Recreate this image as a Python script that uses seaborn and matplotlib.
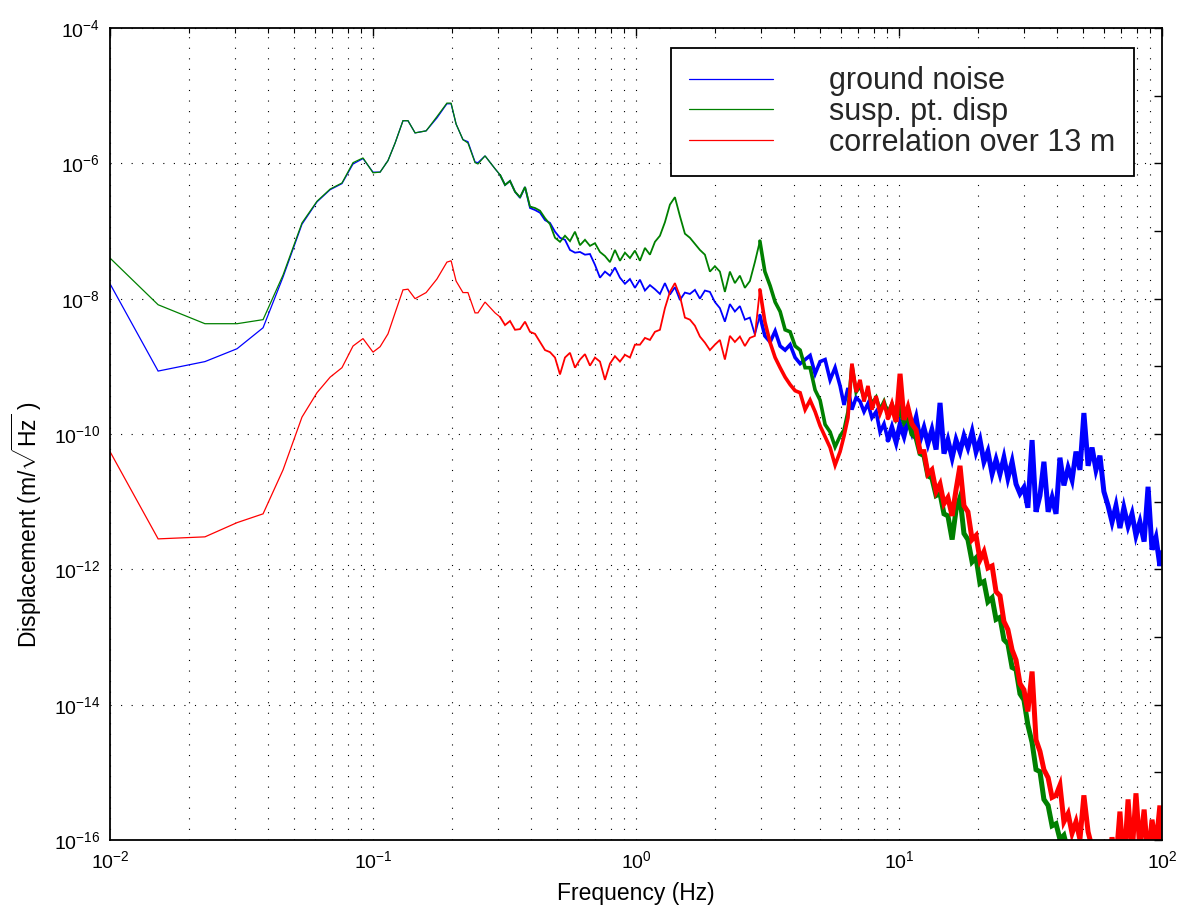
import numpy as np
import pandas as pd
import matplotlib
matplotlib.use("Agg")
import matplotlib.pyplot as plt
from matplotlib.lines import Line2D
import seaborn as sns
from matplotlib.ticker import (FixedLocator, LogLocator, NullFormatter,
                               LogFormatterSciNotation)

# ---------------- data (log10 of frequency in Hz and of displacement in m/sqrt(Hz)) -------------
freq_log10_low = [-2.000, -1.817, -1.639, -1.517, -1.418, -1.342, -1.270, -1.213, -1.163, -1.118,
                  -1.076, -1.038, -1.000, -0.973, -0.943, -0.916, -0.886, -0.867, -0.840, -0.798,
                  -0.757, -0.719, -0.703, -0.684, -0.658, -0.639, -0.612, -0.601, -0.574, -0.536,
                  -0.517]
freq_log10_mid = [-0.498, -0.479, -0.460, -0.441, -0.422, -0.403, -0.384, -0.365, -0.346, -0.327,
                  -0.308, -0.289, -0.270, -0.251, -0.232, -0.213, -0.194, -0.175, -0.156, -0.137,
                  -0.118, -0.099, -0.080, -0.061, -0.042, -0.023, -0.004,
                  0.015, 0.034, 0.053, 0.072, 0.091, 0.110, 0.129, 0.148, 0.167, 0.186,
                  0.205, 0.224, 0.243, 0.262, 0.281, 0.300, 0.319, 0.338, 0.357, 0.376,
                  0.395, 0.414, 0.433, 0.452, 0.471, 0.490, 0.510, 0.529, 0.548, 0.567,
                  0.586, 0.605, 0.624, 0.643, 0.662, 0.681, 0.700, 0.719, 0.738, 0.757,
                  0.776]
freq_log10_high = [0.791, 0.806, 0.821, 0.837, 0.852, 0.867, 0.882, 0.897, 0.913, 0.928,
                   0.943, 0.958, 0.973, 0.989, 1.004, 1.019, 1.034, 1.049, 1.065, 1.080,
                   1.095, 1.110, 1.125, 1.141, 1.156, 1.171, 1.186, 1.202, 1.217, 1.232,
                   1.247, 1.262, 1.278, 1.293, 1.308, 1.323, 1.338, 1.354, 1.369, 1.384,
                   1.399, 1.414, 1.430, 1.445, 1.460, 1.475, 1.490, 1.506, 1.521, 1.536,
                   1.551, 1.567, 1.582, 1.597, 1.612, 1.627, 1.643, 1.658, 1.673, 1.688,
                   1.703, 1.719, 1.734, 1.749, 1.764, 1.779, 1.795, 1.810, 1.825, 1.840,
                   1.855, 1.871, 1.886, 1.901, 1.916, 1.932, 1.947, 1.962, 1.977, 1.992,
                   2.000]

ground_log10_low = [-7.78, -9.07, -8.93, -8.74, -8.43, -7.68, -6.90, -6.57, -6.39, -6.30,
                    -6.01, -5.93, -6.13, -6.13, -5.96, -5.70, -5.37, -5.37, -5.55, -5.52,
                    -5.33, -5.12, -5.12, -5.42, -5.65, -5.68, -5.98, -5.99, -5.89, -6.08,
                    -6.17]
ground_log10_mid = [-6.32, -6.26, -6.42, -6.51, -6.35, -6.66, -6.69, -6.73, -6.84, -6.88,
                    -7.01, -7.10, -7.13, -7.28, -7.32, -7.31, -7.35, -7.34, -7.50, -7.69,
                    -7.60, -7.66, -7.54, -7.69, -7.78, -7.71, -7.84,
                    -7.72, -7.88, -7.80, -7.86, -7.93, -7.77, -7.94, -7.83, -8.02, -7.91,
                    -7.93, -7.87, -8.00, -7.88, -7.90, -8.05, -8.14, -8.34, -8.08, -8.19,
                    -8.11, -8.31, -8.28, -8.53, -8.25, -8.55, -8.64, -8.48, -8.70, -8.76,
                    -8.68, -8.87, -8.96, -8.90, -8.84, -9.11, -8.93, -8.90, -9.20, -9.02,
                    -9.29]
ground_log10_high = [-9.57, -9.32, -9.64, -9.46, -9.52, -9.67, -9.55, -9.76, -9.67, -9.97,
                     -9.85, -10.09, -9.91, -10.12, -9.86, -10.03, -9.79, -9.97, -9.76, -10.09,
                     -9.91, -10.14, -9.94, -10.23, -9.54, -10.29, -10.09, -10.35, -10.09, -10.26,
                     -10.03, -10.20, -9.97, -10.26, -10.09, -10.41, -10.26, -10.59, -10.38, -10.59,
                     -10.35, -10.65, -10.41, -10.74, -10.88, -10.79, -11.09, -10.09, -11.15, -10.91,
                     -10.41, -11.15, -10.94, -11.18, -10.35, -10.76, -10.50, -10.68, -10.26, -10.53,
                     -9.69, -10.47, -10.20, -10.53, -10.32, -10.85, -11.06, -11.30, -11.06, -11.39,
                     -11.09, -11.36, -11.18, -11.50, -11.30, -11.59, -10.78, -11.71, -11.53, -11.95,
                     -11.75]

susp_log10_low = [-7.40, -8.09, -8.37, -8.37, -8.31, -7.65, -6.88, -6.56, -6.38, -6.29,
                  -5.99, -5.92, -6.14, -6.13, -5.96, -5.70, -5.37, -5.37, -5.55, -5.52,
                  -5.31, -5.11, -5.11, -5.42, -5.65, -5.70, -5.99, -6.01, -5.89, -6.08,
                  -6.17]
susp_log10_mid = [-6.32, -6.26, -6.42, -6.50, -6.35, -6.64, -6.66, -6.70, -6.81, -6.90,
                  -7.10, -7.16, -7.07, -7.15, -7.01, -7.21, -7.13, -7.22, -7.18, -7.31,
                  -7.37, -7.46, -7.28, -7.44, -7.32, -7.40, -7.29,
                  -7.44, -7.25, -7.35, -7.16, -7.07, -6.87, -6.61, -6.50, -6.78, -7.04,
                  -7.10, -7.19, -7.28, -7.35, -7.60, -7.52, -7.60, -7.90, -7.60, -7.77,
                  -7.66, -7.84, -7.74, -7.46, -7.15, -7.60, -7.81, -8.05, -8.19, -8.46,
                  -8.49, -8.70, -8.76, -9.02, -9.02, -9.35, -9.50, -9.86, -9.97, -10.19,
                  -10.03]
susp_log10_high = [-9.94, -9.67, -8.98, -9.38, -9.29, -9.46, -9.38, -9.55, -9.46, -9.64,
                   -9.52, -9.70, -9.58, -9.76, -9.64, -9.82, -9.73, -10.00, -10.06, -10.29,
                   -10.32, -10.62, -10.65, -10.91, -10.88, -11.18, -11.21, -11.56, -11.12, -10.94,
                   -11.47, -11.56, -11.89, -11.83, -12.21, -12.18, -12.48, -12.42, -12.74, -12.71,
                   -13.04, -13.10, -13.45, -13.48, -13.84, -13.93, -14.30, -14.56, -14.96, -14.99,
                   -15.40, -15.49, -15.79, -15.76, -15.99, -15.93, -16.17, -16.29, -16.44, -16.58,
                   -16.62, -16.70, -16.66, -16.74, -16.80, -16.77, -16.85, -16.90, -16.88, -16.95,
                   -17.00, -16.97, -17.05, -17.08, -17.04, -17.12, -17.15, -17.10, -17.18, -17.20,
                   -17.22]

corr_log10_low = [-10.26, -11.55, -11.52, -11.31, -11.18, -10.53, -9.75, -9.39, -9.16, -9.02,
                  -8.70, -8.59, -8.79, -8.71, -8.52, -8.21, -7.87, -7.86, -8.00, -7.91,
                  -7.71, -7.46, -7.44, -7.74, -7.91, -7.91, -8.21, -8.21, -8.05, -8.21,
                  -8.27]
corr_log10_mid = [-8.39, -8.33, -8.46, -8.45, -8.34, -8.49, -8.52, -8.64, -8.76, -8.79,
                  -8.87, -9.12, -8.87, -8.80, -9.02, -8.90, -8.82, -8.99, -8.87, -8.93,
                  -9.20, -8.96, -8.85, -8.93, -8.83, -8.87, -8.68,
                  -8.68, -8.58, -8.61, -8.49, -8.46, -8.14, -7.90, -7.77, -7.96, -8.28,
                  -8.31, -8.40, -8.56, -8.65, -8.76, -8.68, -8.61, -8.90, -8.55, -8.64,
                  -8.56, -8.70, -8.58, -8.55, -7.87, -8.34, -8.65, -8.87, -9.02, -9.16,
                  -9.27, -9.36, -9.39, -9.64, -9.50, -9.67, -9.88, -10.04, -10.20, -10.46,
                  -10.26]
corr_log10_high = [-10.03, -9.76, -8.96, -9.38, -9.20, -9.52, -9.29, -9.64, -9.44, -9.70,
                   -9.55, -9.76, -9.58, -9.82, -9.11, -9.79, -9.61, -9.85, -9.94, -10.26,
                   -10.26, -10.59, -10.53, -10.85, -10.74, -11.03, -10.94, -11.21, -10.82, -10.47,
                   -11.06, -11.15, -11.56, -11.50, -11.86, -11.74, -11.98, -11.95, -12.33, -12.39,
                   -12.77, -12.89, -13.19, -13.34, -13.69, -13.78, -14.10, -13.51, -14.52, -14.69,
                   -14.96, -15.08, -15.37, -15.34, -15.19, -15.73, -15.61, -15.90, -15.73, -15.99,
                   -15.34, -15.88, -16.11, -16.23, -16.32, -16.38, -16.44, -15.96, -16.32, -15.58,
                   -16.41, -15.40, -16.23, -15.31, -16.14, -15.55, -16.29, -15.70, -16.08, -15.49,
                   -16.14]

series_labels = ["ground noise", "susp. pt. disp", "correlation over 13 m"]
series_colors = ["#0000ff", "#008000", "#ff0000"]
y_tick_exponents = [-16, -14, -12, -10, -8, -6, -4]
y_minor_exponents = [-15, -13, -11, -9, -7, -5]
x_tick_exponents = [-2, -1, 0, 1, 2]

# ---------------- build long table ----------------
freq_hz = 10.0 ** np.array(freq_log10_low + freq_log10_mid + freq_log10_high)
values = [ground_log10_low + ground_log10_mid + ground_log10_high,
          susp_log10_low + susp_log10_mid + susp_log10_high,
          corr_log10_low + corr_log10_mid + corr_log10_high]

# the raw spectra get denser (more FFT bins per pixel) towards high frequency:
# draw the frequency ranges with growing stroke so the noise reads as a band
n_low = len(freq_log10_low)
i_dense = int(np.searchsorted(freq_hz, 2.9))
i_densest = int(np.searchsorted(freq_hz, 9.0))
segments = [("sparse", 0, n_low), ("medium", n_low - 1, i_dense + 1),
            ("dense", i_dense, i_densest + 1), ("densest", i_densest, len(freq_hz))]
seg_widths = {"sparse": 0.9, "medium": 1.3, "dense": 2.6, "densest": 3.6}

frames = []
for lab, vals in zip(series_labels, values):
    disp = 10.0 ** np.array(vals)
    for seg, a, b in segments:
        frames.append(pd.DataFrame({"Frequency": freq_hz[a:b],
                                    "Displacement": disp[a:b],
                                    "series": lab, "segment": seg}))
df = pd.concat(frames, ignore_index=True)

# ---------------- style ----------------
sns.set_style("white")
plt.rcParams["font.family"] = ["Liberation Sans", "DejaVu Sans"]
plt.rcParams["mathtext.fontset"] = "custom"
plt.rcParams["mathtext.rm"] = "Liberation Sans"
plt.rcParams["mathtext.it"] = "Liberation Sans:italic"
plt.rcParams["mathtext.bf"] = "Liberation Sans:bold"
plt.rcParams["mathtext.sf"] = "Liberation Sans"

W, H = 1181, 911
fig = plt.figure(figsize=(W / 100, H / 100), dpi=100)
fig.patch.set_facecolor("white")
ax = fig.add_axes([110 / W, 1 - 840 / H, (1162 - 110) / W, (840 - 28) / H])

sns.lineplot(data=df, x="Frequency", y="Displacement", hue="series",
             hue_order=series_labels, palette=series_colors,
             size="segment", size_order=["sparse", "medium", "dense", "densest"],
             sizes=seg_widths, estimator=None, sort=False,
             legend=False, ax=ax)
for ln in ax.lines:
    ln.set_solid_joinstyle("miter")

ax.set_xscale("log")
ax.set_yscale("log")
ax.set_xlim(1e-2, 1e2)
ax.set_ylim(1e-16, 1e-4)

ax.xaxis.set_major_locator(FixedLocator([10.0 ** e for e in x_tick_exponents]))
ax.xaxis.set_minor_locator(LogLocator(base=10, subs=np.arange(2, 10), numticks=30))
ax.xaxis.set_major_formatter(LogFormatterSciNotation())
ax.xaxis.set_minor_formatter(NullFormatter())
ax.yaxis.set_major_locator(FixedLocator([10.0 ** e for e in y_tick_exponents]))
ax.yaxis.set_minor_locator(FixedLocator([10.0 ** e for e in y_minor_exponents]))
ax.yaxis.set_major_formatter(LogFormatterSciNotation())
ax.yaxis.set_minor_formatter(NullFormatter())

grid_kw = dict(color="k", linestyle=(0, (1, 8.5)), linewidth=0.8)
ax.grid(True, which="major", axis="both", **grid_kw)
ax.grid(True, which="minor", axis="x", **grid_kw)
ax.set_axisbelow(True)

for sp in ax.spines.values():
    sp.set_color("k")
    sp.set_linewidth(1.3)

ax.tick_params(which="both", direction="in", top=True, right=True, color="k")
ax.tick_params(which="major", length=6, width=1.0, labelsize=14, pad=7, labelcolor="k")
ax.tick_params(axis="x", which="minor", length=3.5, width=0.8)
ax.tick_params(axis="y", which="minor", length=6, width=1.0)

ax.set_xlabel("Frequency (Hz)", fontsize=16.5, color="k")
ax.set_ylabel(r"Displacement (m/$\sqrt{\mathrm{Hz}}$ )", fontsize=16.5, color="k")
ax.xaxis.set_label_coords(0.5, -0.052)
ax.yaxis.set_label_coords(-0.063, 0.388)

handles = [Line2D([], [], color=c, linewidth=0.9) for c in series_colors]
leg = ax.legend(handles=handles, labels=series_labels,
                loc="upper right", bbox_to_anchor=(1134 / W, 1 - 48 / H),
                bbox_transform=fig.transFigure, fontsize=22, frameon=True,
                fancybox=False, edgecolor="k", framealpha=1, borderaxespad=0,
                handlelength=2.75, handletextpad=1.85, borderpad=0.6,
                labelspacing=0.02)
leg.get_frame().set_linewidth(1.3)

fig.savefig("out.png", dpi=100, facecolor="white")
